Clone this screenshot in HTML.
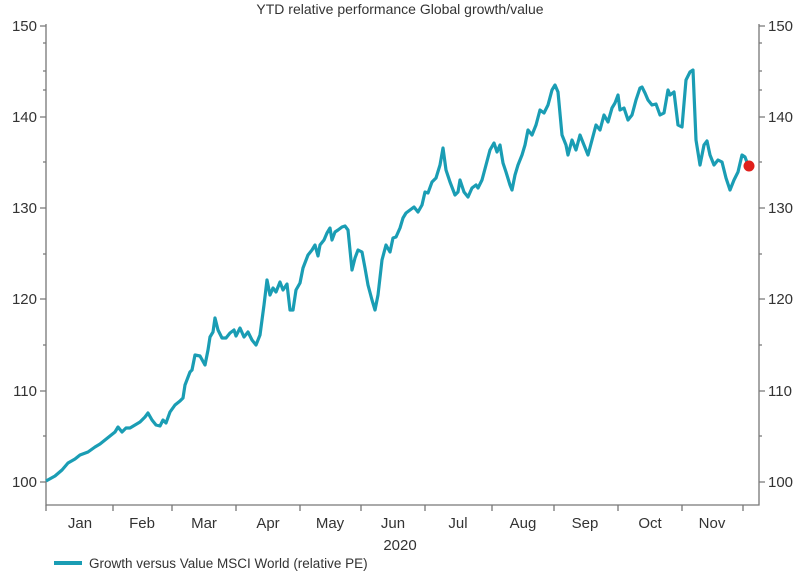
<!DOCTYPE html>
<html><head><meta charset="utf-8"><style>
body{margin:0;background:#fff}
svg text{font-family:"Liberation Sans",Arial,sans-serif;fill:#333}
</style></head><body>
<svg width="800" height="576" viewBox="0 0 800 576" xmlns="http://www.w3.org/2000/svg">
<text x="400" y="14" font-size="14" text-anchor="middle">YTD relative performance Global growth/value</text>
<g stroke="#777" stroke-width="1.3" fill="none">
<path d="M46,24 V505 H759 V24"/>
<path d="M40,26 H46 M40,117 H46 M40,208 H46 M40,299 H46 M40,391 H46 M40,482 H46"/>
<path d="M43,43 H46 M43,71 H46 M43,90 H46 M43,162 H46 M43,254 H46 M43,345 H46 M43,436 H46"/>
<path d="M759,26 H765 M759,117 H765 M759,208 H765 M759,299 H765 M759,391 H765 M759,482 H765"/>
<path d="M759,43 H762 M759,71 H762 M759,90 H762 M759,162 H762 M759,254 H762 M759,345 H762 M759,436 H762"/>
<path d="M46,505 V511 M113,505 V511 M172,505 V511 M236,505 V511 M300,505 V511 M361,505 V511 M425,505 V511 M492,505 V511 M554,505 V511 M618,505 V511 M682,505 V511 M743,505 V511"/>
</g>
<g font-size="15" text-anchor="end">
<text x="37" y="31">150</text><text x="37" y="122">140</text><text x="37" y="213">130</text><text x="37" y="304">120</text><text x="37" y="396">110</text><text x="37" y="487">100</text>
</g>
<g font-size="15">
<text x="768" y="31">150</text><text x="768" y="122">140</text><text x="768" y="213">130</text><text x="768" y="304">120</text><text x="768" y="396">110</text><text x="768" y="487">100</text>
</g>
<g font-size="15" text-anchor="middle">
<text x="80" y="528">Jan</text><text x="142" y="528">Feb</text><text x="204" y="528">Mar</text><text x="268" y="528">Apr</text><text x="330" y="528">May</text><text x="393" y="528">Jun</text><text x="458" y="528">Jul</text><text x="523" y="528">Aug</text><text x="585" y="528">Sep</text><text x="650" y="528">Oct</text><text x="712" y="528">Nov</text>
<text x="400" y="550">2020</text>
</g>
<path d="M54,563 H82" stroke="#1a9db4" stroke-width="4"/>
<text x="89" y="568" font-size="13.5">Growth versus Value MSCI World (relative PE)</text>
<polyline fill="none" stroke="#1a9db4" stroke-width="3.2" stroke-linejoin="round" points="46,481 55,476 62,470 68,463 75,459 80,455 88,452 95,447 100,444 105,440 110,436 115,432 118,427 122,432 126,428 130,428 135,425 140,422 145,417 148,413 152,420 156,425 160,426 163,420 166,423 170,412 175,405 180,401 183,398 185,385 190,372 192,370 195,355 200,356 205,365 208,350 210,337 213,332 215,318 218,330 222,338 226,338 230,333 234,330 236,336 240,328 244,337 248,332 252,340 256,345 260,335 264,305 267,280 270,295 273,288 276,292 280,282 283,290 287,284 290,310 293,310 296,290 300,283 303,268 308,255 312,250 315,245 318,256 320,245 324,240 327,233 330,228 332,240 335,232 338,230 342,227 345,226 348,230 352,270 355,258 358,250 362,252 365,268 368,285 372,300 375,310 378,295 382,260 386,245 390,252 393,238 396,237 400,228 403,218 406,213 410,210 414,207 418,212 422,205 425,192 428,193 432,182 436,178 440,165 443,148 446,170 450,182 455,195 458,192 460,180 464,192 468,197 472,188 476,185 478,188 482,180 486,165 490,150 494,143 497,152 500,145 503,163 506,172 510,185 512,190 515,175 518,165 522,155 525,145 528,130 532,135 536,125 540,110 544,113 548,105 552,90 555,85 558,92 562,135 566,145 568,155 572,140 576,150 580,135 584,145 588,155 592,140 596,125 600,130 604,115 608,122 612,108 615,103 618,95 620,110 624,108 628,120 632,115 636,100 640,88 642,87 645,93 648,100 652,105 656,104 660,115 664,113 668,90 670,95 674,92 678,125 682,127 686,80 690,72 693,70 696,140 700,165 704,145 707,141 710,155 714,165 718,160 722,162 726,178 730,190 734,180 738,172 742,155 745,157 748,165"/>
<circle cx="749" cy="166" r="5.5" fill="#e0201c"/>
</svg>
</body></html>
